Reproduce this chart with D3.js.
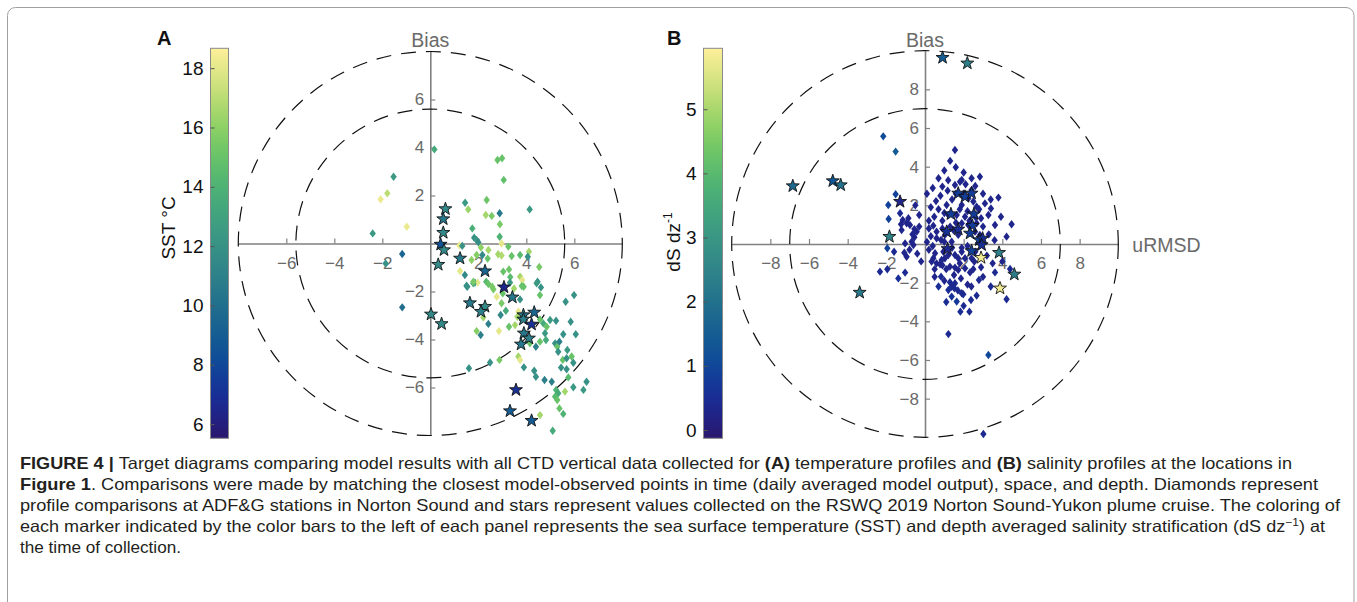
<!DOCTYPE html>
<html>
<head>
<meta charset="utf-8">
<script src="https://cdn.jsdelivr.net/npm/d3@7/dist/d3.min.js"></script>
<style>
body { margin: 0; background: #fff; }
svg text { font-family: "Liberation Sans", Arial, Helvetica, sans-serif; }
</style>
</head>
<body>
<script>
// panel A: [uRMSD, bias, SST]
const sstDiamonds = [
	[0.17, 3.92, 13.5], [-1.53, 2.78, 12.5], [-2.07, 1.84, 18.2], [-1.79, 2.09, 17.0], [-0.98, 0.70, 18.2],
	[-2.40, 0.42, 12.5], [-1.17, -0.44, 9.5], [-1.86, -0.83, 12.0], [-1.17, -2.66, 10.0], [1.45, 1.70, 12.5],
	[1.58, 1.42, 16.3], [2.80, 3.48, 15.0], [2.99, 3.55, 15.0], [3.06, 2.65, 14.8], [2.35, 1.81, 15.2],
	[2.31, 1.19, 16.5], [2.56, 1.15, 15.5], [2.89, 1.26, 10.5], [2.90, 0.80, 15.5], [4.14, 1.42, 12.5],
	[1.75, 0.63, 13.8], [1.83, 0.24, 12.0], [1.93, 0.15, 12.5], [2.00, 0.05, 11.8], [2.11, -0.17, 16.0],
	[2.89, 0.28, 14.0], [2.97, 0.00, 18.0], [3.25, -0.13, 15.0], [1.21, -0.08, 18.2], [1.33, -0.10, 12.0],
	[2.42, -0.27, 16.5], [1.72, -0.69, 16.0], [1.93, -0.48, 15.8], [2.17, -0.48, 11.5], [2.39, -0.63, 15.0],
	[2.83, -0.45, 16.5], [2.97, -0.50, 16.8], [3.39, -0.52, 15.0], [3.74, -0.48, 14.5], [4.11, -0.34, 16.5],
	[4.06, -0.55, 12.0], [4.54, -0.98, 15.5], [1.44, -1.31, 11.5], [1.24, -1.15, 18.0], [3.04, -1.17, 15.0],
	[3.28, -1.08, 15.2], [3.33, -1.40, 14.5], [3.74, -1.38, 16.5], [3.83, -1.52, 18.0], [4.47, -1.59, 12.0],
	[1.86, -1.63, 12.0], [1.97, -1.63, 18.0], [2.33, -1.59, 14.5], [2.42, -1.69, 15.0], [2.58, -1.80, 15.5],
	[1.51, -1.76, 12.0], [3.89, -1.80, 15.0], [4.61, -1.83, 12.0], [1.54, -1.80, 12.0], [1.79, -1.66, 13.5],
	[2.63, -1.91, 15.5], [2.77, -2.22, 18.0], [3.02, -2.08, 15.0], [2.97, -2.49, 15.5], [3.32, -1.63, 12.5],
	[3.49, -1.87, 16.5], [3.74, -2.33, 12.0], [3.81, -1.77, 15.0], [4.43, -1.66, 12.5], [4.57, -2.15, 15.0],
	[5.99, -2.15, 12.0], [5.64, -2.43, 12.0], [2.93, -2.98, 11.5], [3.15, -2.80, 13.5], [2.21, -3.08, 16.5],
	[2.42, -3.35, 11.0], [1.93, -3.65, 15.8], [2.10, -3.81, 11.0], [2.86, -3.65, 18.0], [3.28, -3.47, 15.0],
	[3.53, -3.40, 16.5], [3.67, -2.84, 18.0], [3.63, -3.05, 16.5], [4.57, -3.16, 15.0], [4.71, -3.33, 13.5],
	[4.85, -3.47, 15.0], [4.99, -3.19, 12.5], [5.24, -3.22, 12.0], [4.78, -3.74, 12.5], [4.57, -4.09, 15.0],
	[4.82, -4.02, 13.5], [4.40, -4.30, 11.0], [4.15, -4.16, 15.0], [5.20, -4.16, 12.0], [5.29, -4.30, 15.0],
	[5.38, -4.09, 11.0], [5.33, -4.51, 12.0], [5.71, -4.44, 12.5], [5.54, -3.78, 12.0], [5.85, -3.26, 12.0],
	[6.06, -3.78, 12.0], [2.88, -4.85, 15.5], [2.49, -4.96, 12.0], [1.61, -5.20, 12.0], [3.67, -4.71, 16.5],
	[3.74, -4.85, 18.0], [3.90, -5.16, 12.0], [4.33, -5.30, 12.0], [4.40, -5.55, 12.0], [4.76, -5.69, 11.0],
	[5.06, -5.76, 11.0], [5.45, -5.17, 12.0], [5.52, -4.85, 15.0], [5.68, -4.78, 12.0], [5.89, -4.71, 15.0],
	[5.96, -4.97, 12.0], [5.68, -5.24, 12.0], [5.75, -5.58, 14.5], [5.96, -5.99, 12.5], [6.38, -6.10, 12.5],
	[6.51, -5.76, 12.0], [5.24, -6.10, 14.0], [5.33, -6.24, 13.5], [5.20, -6.38, 14.5], [5.29, -6.52, 15.0],
	[5.61, -6.17, 16.5], [5.38, -6.87, 15.0], [5.54, -7.10, 14.0], [4.57, -7.15, 16.5], [5.10, -7.80, 13.5],
	[1.79, -1.59, 15.5]
];
const sstStars = [
	[0.63, 1.44, 11.5], [0.54, 1.02, 10.5], [0.54, 0.45, 11.5], [0.43, -0.04, 8.5], [0.57, -0.27, 11.5],
	[0.33, -0.88, 11.5], [1.24, -0.62, 10.5], [2.28, -1.15, 9.5], [3.07, -1.82, 6.5], [3.42, -2.24, 10.5],
	[1.65, -2.48, 10.5], [2.28, -2.63, 11.5], [2.11, -2.84, 11.0], [3.88, -2.98, 10.5], [4.33, -2.87, 9.5],
	[3.88, -3.16, 11.0], [4.22, -3.37, 7.0], [3.90, -3.74, 10.5], [4.11, -3.95, 11.0], [3.78, -4.20, 10.5],
	[3.57, -6.10, 7.0], [3.32, -6.98, 9.0], [4.22, -7.38, 9.0], [0.03, -2.95, 11.5], [0.47, -3.35, 11.5]
];

// panel B: [uRMSD, bias, dS dz-1]
const dsDiamonds = [
	[-2.16, 5.57, 1.1], [-1.52, 4.78, 1.4], [-1.52, 2.57, 0.9], [-1.90, 2.02, 0.9], [-1.88, 1.29, 0.9],
	[-1.29, 1.59, 0.4], [-1.24, 1.02, 0.3], [-0.86, 1.33, 0.3], [-0.78, 0.98, 0.3], [-0.55, 0.77, 0.3],
	[-0.43, 0.64, 0.3], [-0.69, 0.12, 0.3], [-1.03, 0.03, 0.3], [-0.60, -0.05, 0.3], [-1.95, -0.22, 0.9],
	[-2.33, -1.43, 0.4], [-1.95, -1.31, 0.4], [-1.38, -1.78, 0.5], [-1.03, -1.48, 0.4], [-1.07, -0.45, 0.3],
	[-0.95, -0.66, 0.3], [-0.80, -0.30, 0.3], [-0.55, 0.35, 0.3], [1.55, 4.86, 0.3], [1.59, 3.97, 0.3],
	[0.57, 2.22, 0.3], [0.48, 1.41, 0.3], [0.43, 0.95, 0.3], [0.60, 0.64, 0.3], [0.90, 2.97, 0.3],
	[1.17, 2.76, 0.3], [1.12, 2.02, 0.3], [1.21, 1.50, 0.3], [1.55, 3.05, 0.3], [1.81, 3.22, 0.3],
	[1.90, 3.31, 0.3], [2.10, 3.09, 0.3], [2.41, 3.40, 0.3], [2.84, 3.48, 0.3], [2.41, 2.79, 0.3],
	[2.24, 2.36, 0.3], [1.90, 2.02, 0.3], [1.64, 1.50, 0.3], [2.07, 1.41, 0.3], [1.90, 1.07, 0.3],
	[2.24, 0.98, 0.3], [1.72, 0.47, 0.3], [1.47, 0.72, 0.3], [1.03, 0.47, 0.3], [0.83, 0.21, 0.3],
	[1.00, 0.12, 0.3], [1.38, 0.12, 0.3], [2.67, 1.93, 0.3], [2.90, 1.33, 0.3], [2.67, 1.07, 0.3],
	[2.59, 0.64, 0.3], [2.84, 0.47, 0.3], [3.41, 1.84, 0.3], [3.93, 1.41, 0.3], [4.48, 1.02, 0.3],
	[4.22, 0.38, 0.3], [3.10, 2.10, 0.3], [3.28, 1.50, 0.3], [3.62, 0.98, 0.3], [0.30, 1.90, 0.3],
	[0.70, 1.80, 0.3], [0.90, 1.20, 0.3], [1.40, 2.30, 0.3], [1.80, 1.80, 0.3], [2.00, 2.60, 0.3],
	[1.30, 0.90, 0.3], [0.60, 0.30, 0.3], [2.50, 2.20, 0.3], [1.00, 1.60, 0.3], [0.30, 0.40, 0.3],
	[1.60, 2.60, 0.3], [2.20, 1.70, 0.3], [2.60, 1.40, 0.5], [0.80, 2.50, 0.3], [1.20, 3.30, 0.3],
	[0.20, 1.20, 0.3], [3.00, 0.90, 0.3], [0.34, -0.91, 0.3], [0.60, -1.00, 0.3], [0.86, -0.83, 0.3],
	[1.03, -0.74, 0.3], [1.29, -1.17, 0.3], [1.55, -1.22, 0.3], [1.72, -1.34, 0.3], [2.07, -1.26, 0.3],
	[2.33, -1.47, 0.3], [1.86, -1.78, 0.3], [1.55, -2.03, 0.4], [1.38, -2.21, 0.4], [1.29, -1.98, 0.4],
	[1.21, -2.38, 0.5], [1.38, -2.72, 0.6], [1.52, -2.29, 0.4], [1.64, -2.98, 0.7], [1.90, -2.55, 0.4],
	[1.98, -2.60, 0.4], [2.38, -2.90, 0.4], [2.67, -2.67, 0.4], [2.79, -1.86, 0.4], [1.83, -3.50, 0.5],
	[1.21, -4.66, 0.4], [3.28, -5.74, 1.0], [3.02, -9.83, 0.4], [4.22, -2.86, 0.4], [3.62, -1.47, 0.4],
	[4.40, -1.29, 0.4], [0.78, -1.05, 0.3], [0.43, -0.74, 0.3], [0.52, -0.48, 0.3], [0.95, -0.40, 0.3],
	[1.21, -0.57, 0.3], [1.55, -0.57, 0.3], [1.72, -0.74, 0.3], [1.90, -0.40, 0.3], [2.07, -0.74, 0.3],
	[2.41, -0.74, 0.3], [2.55, -0.91, 0.3], [0.83, -1.69, 0.4], [0.50, -1.30, 0.3], [1.00, -1.90, 0.3],
	[2.20, -2.10, 0.3], [2.90, -1.20, 0.3], [3.20, -0.60, 0.3], [0.20, -0.30, 0.3], [1.40, -0.20, 0.3],
	[2.20, -0.10, 0.3], [1.80, -1.00, 0.3], [1.10, -1.30, 0.3], [0.70, -2.20, 0.5], [1.70, -2.40, 0.4],
	[2.00, -3.20, 0.4], [-1.60, -0.40, 0.4], [-0.40, -0.50, 0.3], [-0.30, 1.50, 0.3], [-1.15, 1.24, 0.3],
	[-0.95, 1.07, 0.3], [-1.21, 0.72, 0.3], [-0.65, 0.50, 0.3], [0.10, 2.60, 0.3], [0.40, 2.90, 0.3],
	[0.70, 3.40, 0.3], [1.00, 3.80, 0.3], [1.30, 4.30, 0.3], [2.00, 3.70, 0.3], [2.60, 3.00, 0.3],
	[3.00, 2.60, 0.3], [3.40, 2.30, 0.3], [0.20, 0.80, 0.3], [0.90, 0.80, 0.3], [1.60, 1.10, 0.3],
	[2.30, 1.20, 0.3], [2.80, 1.80, 0.3], [3.30, 0.50, 0.3], [3.60, 0.20, 0.3], [0.40, -0.10, 0.3],
	[0.90, -1.10, 0.3], [1.50, -1.60, 0.3], [2.50, -1.30, 0.3], [3.00, -1.70, 0.3], [3.40, -2.20, 0.4],
	[2.40, -2.20, 0.3], [0.50, -1.70, 0.3], [1.10, -3.00, 0.5], [2.30, -3.50, 0.4], [-0.20, -0.90, 0.3],
	[-0.30, 0.90, 0.3], [1.90, -0.20, 0.3], [2.60, -0.40, 0.3], [3.50, -1.00, 0.3], [4.00, -0.90, 0.3],
	[0.10, 0.10, 0.3], [-0.50, 2.00, 0.3], [3.80, 2.40, 0.3]
];
const dsStars = [
	[0.91, 9.64, 1.5], [2.19, 9.35, 2.4], [-6.84, 3.00, 1.8], [-4.77, 3.26, 1.3], [-4.36, 3.05, 2.0],
	[-1.29, 2.19, 0.3], [-1.84, 0.38, 2.5], [-3.38, -2.51, 2.2], [1.72, 2.62, 0.8], [2.07, 2.45, 0.8],
	[2.41, 2.62, 0.8], [1.34, 1.55, 0.8], [2.53, 1.55, 0.8], [2.45, 0.95, 0.8], [1.12, 0.64, 0.6],
	[1.72, 0.76, 0.5], [2.33, 0.55, 0.8], [2.81, 0.21, 0.9], [2.98, 0.29, 0.5], [1.17, -0.25, 0.4],
	[2.41, -0.36, 0.9], [2.93, -0.05, 0.5], [2.90, -0.71, 5.8], [3.83, -0.45, 2.4], [4.62, -1.57, 2.3],
	[3.88, -2.29, 5.8]
];

const sstTicks = [6, 8, 10, 12, 14, 16, 18];
const dsTicks = [0, 1, 2, 3, 4, 5];
const ticksA = [-6, -4, -2, 2, 4, 6];
const ticksB = [-8, -6, -4, -2, 2, 4, 6, 8];
const circlesA = [5.6, 8];
const circlesB = [7, 10];

// cmocean haline, sampled at 0, 0.1 ... 1
const haline = ["#2a186c", "#1a299c", "#0b4d99", "#19658f", "#2c7d8a", "#389386", "#43a87d", "#5cbf6b", "#8cd160", "#cce07a", "#fdef9a"];

const caption = [
	[["b", "FIGURE 4 | "], ["", "Target diagrams comparing model results with all CTD vertical data collected for "], ["b", "(A)"], ["", " temperature profiles and "], ["b", "(B)"], ["", " salinity profiles at the locations in"]],
	[["b", "Figure 1"], ["", ". Comparisons were made by matching the closest model-observed points in time (daily averaged model output), space, and depth. Diamonds represent"]],
	[["", "profile comparisons at ADF&G stations in Norton Sound and stars represent values collected on the RSWQ 2019 Norton Sound-Yukon plume cruise. The coloring of"]],
	[["", "each marker indicated by the color bars to the left of each panel represents the sea surface temperature (SST) and depth averaged salinity stratification (dS dz"], ["sup", "\u22121"], ["", ") at"]],
	[["", "the time of collection."]]
];
const captionWidths = [1272, 1298, 1320, 1305, 161];

const W = 1357, H = 602;
const svg = d3.select("body").append("svg")
	.attr("width", W)
	.attr("height", H);

svg.append("rect").attr("width", W).attr("height", H).attr("fill", "#fff");
svg.append("rect")
	.attr("x", 7.5).attr("y", 7.5)
	.attr("width", 1346.5).attr("height", 640)
	.attr("rx", 8)
	.attr("fill", "none")
	.attr("stroke", "#a0a0a0");

const defs = svg.append("defs");
const halineInterp = d3.interpolateRgbBasis(haline);

function diamond(d) {
	return "M0,-4.2L3.2,0L0,4.2L-3.2,0Z";
}

function star(r) {
	let pts = [];
	for (let i = 0; i < 10; i++) {
		let a = -Math.PI / 2 + i * Math.PI / 5;
		let rr = i % 2 ? r * 0.4 : r;
		pts.push([rr * Math.cos(a), rr * Math.sin(a)]);
	}
	return "M" + pts.map(p => p[0].toFixed(2) + "," + p[1].toFixed(2)).join("L") + "Z";
}

function colorbar(options) {
	let scale = d3.scaleLinear().domain(options.domain).range([options.y1, options.y0]);
	let color = d3.scaleSequential(halineInterp).domain(options.domain);
	let id = "grad" + options.id;
	let grad = defs.append("linearGradient")
		.attr("id", id)
		.attr("x1", 0).attr("y1", 1).attr("x2", 0).attr("y2", 0);
	d3.range(0, 1.0001, 0.05).forEach(t => {
		grad.append("stop").attr("offset", t).attr("stop-color", halineInterp(t));
	});

	let g = svg.append("g").attr("class", "colorbar");
	g.append("rect")
		.attr("x", options.x).attr("y", options.y0)
		.attr("width", options.w).attr("height", options.y1 - options.y0)
		.attr("fill", `url(#${id})`)
		.attr("stroke", "#8a8a8a")
		.attr("stroke-width", 1);

	let ax = g.append("g")
		.attr("transform", `translate(${options.x}, 0)`)
		.call(d3.axisLeft(scale).tickValues(options.ticks).tickFormat(d3.format("d")).tickSizeInner(-4).tickSizeOuter(0).tickPadding(7));
	ax.select(".domain").remove();
	ax.selectAll(".tick line").attr("stroke", "#555");
	ax.selectAll("text").attr("fill", "#111").attr("font-size", 19).attr("font-family", null);

	let lab = g.append("text")
		.attr("transform", `translate(${options.labelX}, ${options.labelY}) rotate(-90)`)
		.attr("text-anchor", "middle")
		.attr("font-size", 19)
		.attr("fill", "#111");
	options.label.forEach(part => {
		let t = lab.append("tspan").text(part[1]);
		if (part[0] == "sup") t.attr("font-size", 12).attr("dy", -8);
	});
	return color;
}

function target(options) {
	let lim = options.lim;
	let x = d3.scaleLinear().domain([-lim, lim]).range([options.cx - lim * options.k, options.cx + lim * options.k]);
	let y = d3.scaleLinear().domain([-lim, lim]).range([options.cy + lim * options.k, options.cy - lim * options.k]);
	let g = svg.append("g").attr("class", "target");

	let ax = g.append("g")
		.attr("transform", `translate(0, ${y(0)})`)
		.call(d3.axisBottom(x).tickValues(options.ticks).tickSizeInner(-5).tickSizeOuter(0).tickPadding(13));
	let ay = g.append("g")
		.attr("transform", `translate(${x(0)}, 0)`)
		.call(d3.axisLeft(y).tickValues(options.ticks).tickSizeInner(-5).tickSizeOuter(0).tickPadding(6));
	[ax, ay].forEach(a => {
		a.select(".domain").attr("stroke", "#808080").attr("stroke-width", 1.6);
		a.selectAll(".tick line").attr("stroke", "#808080").attr("stroke-width", 1.2);
		a.selectAll("text").attr("fill", "#6a6a6a").attr("font-size", 17).attr("font-family", null);
	});

	g.selectAll("circle.ring")
		.data(options.circles)
		.join("circle")
		.attr("class", "ring")
		.attr("cx", x(0)).attr("cy", y(0))
		.attr("r", d => x(d) - x(0))
		.attr("fill", "none")
		.attr("stroke", "#111")
		.attr("stroke-width", 1.2)
		.attr("stroke-dasharray", "15,10");

	g.append("text")
		.attr("x", x(0)).attr("y", 46.5)
		.attr("text-anchor", "middle")
		.attr("font-size", 19.5)
		.attr("fill", "#6a6a6a")
		.text("Bias");

	if (options.xlabel) {
		g.append("text")
			.attr("x", x(lim) + 14).attr("y", y(0) + 3)
			.attr("dominant-baseline", "middle")
			.attr("font-size", 19.5)
			.attr("fill", "#6a6a6a")
			.text(options.xlabel);
	}

	g.append("g").selectAll("path")
		.data(options.diamonds)
		.join("path")
		.attr("d", diamond)
		.attr("transform", d => `translate(${x(d[0])}, ${y(d[1])})`)
		.attr("fill", d => options.color(d[2]));

	g.append("g").selectAll("path")
		.data(options.stars)
		.join("path")
		.attr("d", star(6.8))
		.attr("transform", d => `translate(${x(d[0])}, ${y(d[1])})`)
		.attr("fill", d => options.color(d[2]))
		.attr("stroke", "#111")
		.attr("stroke-width", 0.9)
		.attr("stroke-linejoin", "miter");

	svg.append("text")
		.attr("x", options.letterX).attr("y", 45)
		.attr("font-size", 20)
		.attr("font-weight", "bold")
		.attr("fill", "#111")
		.text(options.letter);
}

let colorA = colorbar({ id: "A", x: 210.5, w: 18, y0: 48.3, y1: 438.3, domain: [5.52, 18.67], ticks: sstTicks, label: [["", "SST °C"]], labelX: 175, labelY: 228 });
let colorB = colorbar({ id: "B", x: 703.5, w: 19, y0: 48.3, y1: 438.3, domain: [-0.13, 5.95], ticks: dsTicks, label: [["", "dS dz"], ["sup", "-1"]], labelX: 680, labelY: 242 });

target({ cx: 430.3, cy: 243.5, k: 24, lim: 8, ticks: ticksA, circles: circlesA, diamonds: sstDiamonds, stars: sstStars, color: colorA, letter: "A", letterX: 157 });
target({ cx: 925, cy: 244, k: 19.33, lim: 10, ticks: ticksB, circles: circlesB, diamonds: dsDiamonds, stars: dsStars, color: colorB, letter: "B", letterX: 667, xlabel: "uRMSD" });

// caption
let cap = svg.append("g").attr("class", "caption");
caption.forEach((line, i) => {
	let t = cap.append("text")
		.attr("x", 20)
		.attr("y", 468.5 + i * 21)
		.attr("font-size", 16.5)
		.attr("fill", "#231f20")
		.style("font-family", "'Liberation Sans Narrow', 'Arial Narrow', 'Liberation Sans', sans-serif")
		.attr("textLength", captionWidths[i])
		.attr("lengthAdjust", "spacingAndGlyphs");
	line.forEach(part => {
		let s = t.append("tspan").text(part[1]);
		if (part[0] == "b") s.attr("font-weight", "bold");
		if (part[0] == "sup") s.attr("font-size", 11).attr("dy", -6);
		else if (part[1].startsWith(")")) s.attr("dy", 6);
	});
});
</script>
</body>
</html>
